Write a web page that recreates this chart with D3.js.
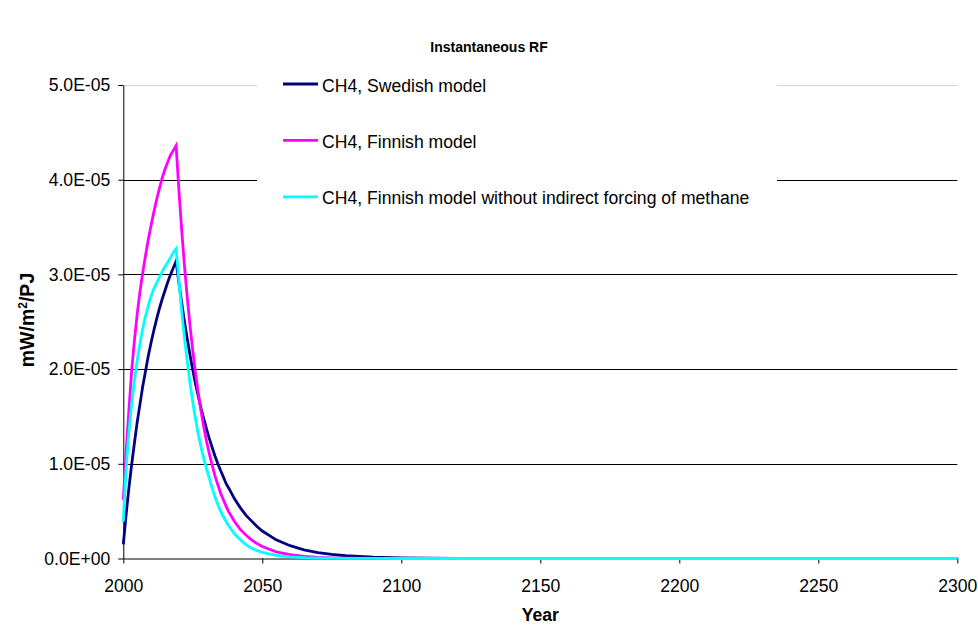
<!DOCTYPE html>
<html>
<head>
<meta charset="utf-8">
<script src="https://cdn.jsdelivr.net/npm/d3@7"></script>
<style>
  html, body { margin: 0; padding: 0; background: #fff; }
  svg { display: block; font-family: "Liberation Sans", Arial, sans-serif; }
</style>
</head>
<body>
<svg id="chart" width="978" height="626"></svg>
<script>
// Years sampled for all three series
const years = [
  2000, 2001, 2002, 2003, 2004, 2005, 2006, 2007, 2008, 2009,
  2010, 2011, 2012, 2013, 2014, 2015, 2016, 2017, 2018, 2019,
  2020, 2021, 2022, 2023, 2024, 2025, 2026, 2027, 2028, 2029,
  2030, 2031, 2032, 2033, 2034, 2035, 2036, 2037, 2038,
  2040, 2042, 2044, 2046, 2048, 2050, 2055, 2060, 2065, 2070, 2075,
  2080, 2090, 2100, 2110, 2120, 2150, 2200, 2250, 2300
];

// Instantaneous radiative forcing, in units of 1E-05 mW/m2/PJ
const swedish = [
  0.15, 0.46, 0.74, 0.99, 1.22, 1.44, 1.63, 1.82, 1.98, 2.14,
  2.28, 2.41, 2.53, 2.64, 2.74, 2.83, 2.92, 3.00, 3.07, 3.14,
  2.91, 2.70, 2.50, 2.32, 2.15, 1.99, 1.84, 1.71, 1.58, 1.47,
  1.36, 1.26, 1.17, 1.08, 1.00, 0.93, 0.86, 0.79, 0.74,
  0.63, 0.54, 0.46, 0.40, 0.34, 0.29, 0.197, 0.135, 0.092, 0.063, 0.043,
  0.029, 0.014, 0.0064, 0.003, 0.0014, 0.0001, 0, 0, 0
];

const finnish = [
  0.62, 1.12, 1.56, 1.98, 2.30, 2.58, 2.82, 3.02, 3.20, 3.37,
  3.52, 3.66, 3.79, 3.91, 4.02, 4.11, 4.19, 4.26, 4.31, 4.36,
  3.89, 3.47, 3.09, 2.76, 2.46, 2.19, 1.95, 1.74, 1.55, 1.38,
  1.23, 1.10, 0.98, 0.87, 0.78, 0.69, 0.62, 0.55, 0.49,
  0.39, 0.31, 0.25, 0.20, 0.16, 0.126, 0.07, 0.04, 0.022, 0.012, 0.007,
  0.004, 0.0013, 0.0004, 0.0001, 0, 0, 0, 0, 0
];

const finnishDirect = [
  0.39, 0.95, 1.33, 1.63, 1.88, 2.09, 2.27, 2.43, 2.56, 2.67,
  2.77, 2.85, 2.91, 2.97, 3.03, 3.08, 3.13, 3.18, 3.23, 3.27,
  2.93, 2.61, 2.33, 2.08, 1.85, 1.65, 1.47, 1.31, 1.17, 1.05,
  0.94, 0.84, 0.74, 0.65, 0.57, 0.50, 0.44, 0.39, 0.34,
  0.26, 0.20, 0.15, 0.11, 0.085, 0.065, 0.033, 0.017, 0.009, 0.005, 0.003,
  0.0015, 0.0005, 0.0001, 0, 0, 0, 0, 0, 0
];

const seriesNames = [
  "CH4, Swedish model",
  "CH4, Finnish model",
  "CH4, Finnish model without indirect forcing of methane"
];
const seriesColors = ["#000080", "#ff00ff", "#00ffff"];
const seriesValues = [swedish, finnish, finnishDirect];
const valueUnit = 1e-5;

const yTicks = [0, 1e-5, 2e-5, 3e-5, 4e-5, 5e-5];
const xTicks = [2000, 2050, 2100, 2150, 2200, 2250, 2300];

const titleText = "Instantaneous RF";
const xTitle = "Year";

// Layout
const plot = { left: 123.3, right: 957.3, top: 85, bottom: 558.5 };
const FONT = 17.6;

const svg = d3.select("#chart");

const x = d3.scaleLinear().domain([2000, 2300]).range([plot.left, plot.right]);
const y = d3.scaleLinear().domain([0, 5e-5]).range([plot.bottom, plot.top]);

// Excel-style scientific labels, e.g. 5.0E-05
function sci(v) {
  if (v === 0) return "0.0E+00";
  const e = Math.floor(Math.log10(Math.abs(v)) + 1e-9);
  const m = v / Math.pow(10, e);
  const sign = e < 0 ? "-" : "+";
  return m.toFixed(1) + "E" + sign + String(Math.abs(e)).padStart(2, "0");
}

// Horizontal gridlines
svg.append("g")
  .selectAll("line")
  .data(yTicks.filter(d => d > 0))
  .join("line")
  .attr("x1", plot.left).attr("x2", plot.right)
  .attr("y1", d => Math.round(y(d)) + 0.5).attr("y2", d => Math.round(y(d)) + 0.5)
  .attr("stroke", d => d === 5e-5 ? "#d4d4d4" : "#000")
  .attr("stroke-width", 1);

// Legend backdrop (sits over the gridlines)
const legend = svg.append("g");
legend.append("rect")
  .attr("x", 257).attr("y", 66)
  .attr("width", 520).attr("height", 151)
  .attr("fill", "#fff");

// Y axis
const yAxis = svg.append("g")
  .attr("transform", `translate(${plot.left},0)`)
  .call(d3.axisLeft(y).tickValues(yTicks).tickFormat(sci).tickSize(5).tickSizeOuter(0).tickPadding(8));
yAxis.selectAll("text").attr("font-size", FONT).attr("fill", "#000");
yAxis.selectAll("line, path").attr("stroke", "#000");

// X axis
const xAxis = svg.append("g")
  .attr("transform", `translate(0,${plot.bottom})`)
  .call(d3.axisBottom(x).tickValues(xTicks).tickFormat(d3.format("d")).tickSize(5).tickSizeOuter(0).tickPadding(16));
xAxis.selectAll("text").attr("font-size", FONT).attr("fill", "#000");
xAxis.selectAll("line, path").attr("stroke", "#000");

// Series lines
const line = d3.line()
  .x((d, i) => x(years[i]))
  .y(d => y(d * valueUnit));

svg.append("g")
  .selectAll("path")
  .data(seriesValues)
  .join("path")
  .attr("d", d => line(d))
  .attr("fill", "none")
  .attr("stroke", (d, i) => seriesColors[i])
  .attr("stroke-width", 2.8)
  .attr("stroke-linejoin", "miter")
  .attr("stroke-miterlimit", 10);

// Legend entries
const items = legend.selectAll("g.item")
  .data(seriesNames)
  .join("g")
  .attr("class", "item")
  .attr("transform", (d, i) => `translate(283,${84 + i * 56.4})`);
items.append("line")
  .attr("x1", 0).attr("x2", 35)
  .attr("stroke", (d, i) => seriesColors[i])
  .attr("stroke-width", 2.8);
items.append("text")
  .attr("x", 39).attr("y", 7.5)
  .attr("font-size", FONT)
  .text(d => d);

// Titles
svg.append("text")
  .attr("x", 489).attr("y", 52)
  .attr("text-anchor", "middle")
  .attr("font-weight", "bold")
  .attr("font-size", 14)
  .text(titleText);

svg.append("text")
  .attr("x", (plot.left + plot.right) / 2).attr("y", 621)
  .attr("text-anchor", "middle")
  .attr("font-weight", "bold")
  .attr("font-size", FONT)
  .text(xTitle);

const yTitle = svg.append("text")
  .attr("transform", `translate(34,320) rotate(-90)`)
  .attr("text-anchor", "middle")
  .attr("font-weight", "bold")
  .attr("font-size", 19.5);
yTitle.append("tspan").text("mW/m");
yTitle.append("tspan").attr("baseline-shift", "super").attr("font-size", 12).text("2");
yTitle.append("tspan").text("/PJ");
</script>
</body>
</html>
